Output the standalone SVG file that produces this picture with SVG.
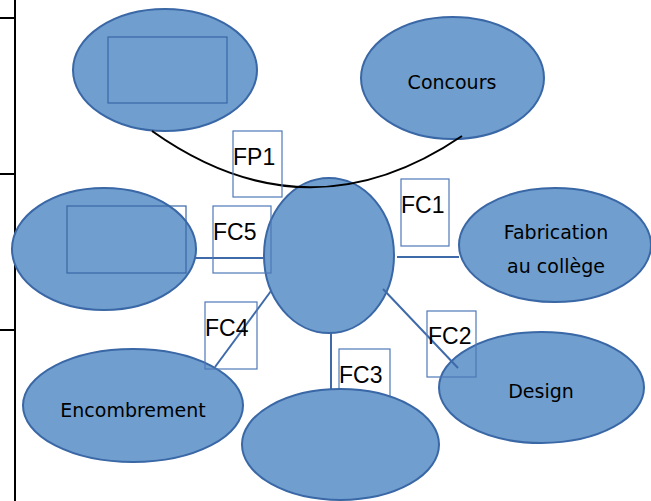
<svg xmlns="http://www.w3.org/2000/svg" width="651" height="501" viewBox="0 0 651 501">
<style>
.ell{fill:#6f9ecf;stroke:#3a67a5;stroke-width:2}
.inner{fill:none;stroke:#3a67a5;stroke-width:1.2}
.box{fill:none;stroke:#4f78b8;stroke-width:1.2}
.conn{stroke:#3f6aaa;stroke-width:2;fill:none}
.lab{font-family:"Liberation Sans",Arial,sans-serif;font-size:23px;fill:#000}
.nt{font-family:"DejaVu Sans","Open Sans",sans-serif;font-size:19px;fill:#000;text-anchor:middle}
.frame{stroke:#000;stroke-width:2;fill:none}
</style>
<rect width="651" height="501" fill="#fff"/>
<g id="frame">
<line class="frame" x1="15" y1="0" x2="15" y2="501"/>
<line class="frame" x1="0" y1="18" x2="15" y2="18"/>
<line class="frame" x1="0" y1="174" x2="15" y2="174"/>
<line class="frame" x1="0" y1="330" x2="15" y2="330"/>
</g>
<g id="node-top-left">
<ellipse class="ell" cx="165" cy="70" rx="92" ry="61"/>
<rect class="inner" x="108" y="37" width="119" height="66"/>
</g>
<g id="node-concours">
<ellipse class="ell" cx="452.5" cy="78" rx="91.5" ry="61"/>
<text class="nt" x="452" y="89">Concours</text>
</g>
<g id="node-left">
<ellipse class="ell" cx="104" cy="249" rx="92" ry="61"/>
<rect class="inner" x="67" y="206" width="119" height="67"/>
</g>
<g id="node-fabrication">
<ellipse class="ell" cx="555" cy="245" rx="96" ry="57"/>
<text class="nt" x="556" y="239">Fabrication</text>
<text class="nt" x="556" y="273">au collège</text>
</g>
<g id="node-center">
<ellipse class="ell" cx="329" cy="255.5" rx="65" ry="77.5"/>
</g>
<g id="node-design">
<ellipse class="ell" cx="541.5" cy="387.5" rx="102.5" ry="55.5"/>
<text class="nt" x="541" y="398">Design</text>
</g>
<g id="node-encombrement">
<ellipse class="ell" cx="133" cy="405.5" rx="110" ry="56.5"/>
<text class="nt" x="133" y="417">Encombrement</text>
</g>
<g id="connectors">
<path class="frame" d="M152,131 Q307,241 462,136"/>
<line class="conn" x1="195" y1="258" x2="264" y2="258"/>
<line class="conn" x1="397" y1="257" x2="459" y2="257"/>
<line class="conn" x1="271" y1="291" x2="215" y2="367"/>
<line class="conn" x1="383" y1="289" x2="458" y2="368"/>
<line class="conn" x1="331" y1="333" x2="331" y2="391"/>
</g>
<g id="label-fp1">
<rect class="box" x="233" y="131" width="49" height="66"/>
<text class="lab" x="233" y="165">FP1</text>
</g>
<g id="label-fc5">
<rect class="box" x="213" y="206" width="58" height="67"/>
<text class="lab" x="213" y="240">FC5</text>
</g>
<g id="label-fc1">
<rect class="box" x="401" y="179" width="48" height="67"/>
<text class="lab" x="401" y="213">FC1</text>
</g>
<g id="label-fc4">
<rect class="box" x="205" y="302" width="52" height="67"/>
<text class="lab" x="205" y="336">FC4</text>
</g>
<g id="label-fc2">
<rect class="box" x="427" y="311" width="49" height="66"/>
<text class="lab" x="428" y="344">FC2</text>
</g>
<g id="label-fc3">
<rect class="box" x="339" y="349" width="51" height="66"/>
<text class="lab" x="339" y="383">FC3</text>
</g>
<g id="node-bottom">
<ellipse class="ell" cx="340.5" cy="444.5" rx="98.5" ry="55.5"/>
</g>
</svg>
